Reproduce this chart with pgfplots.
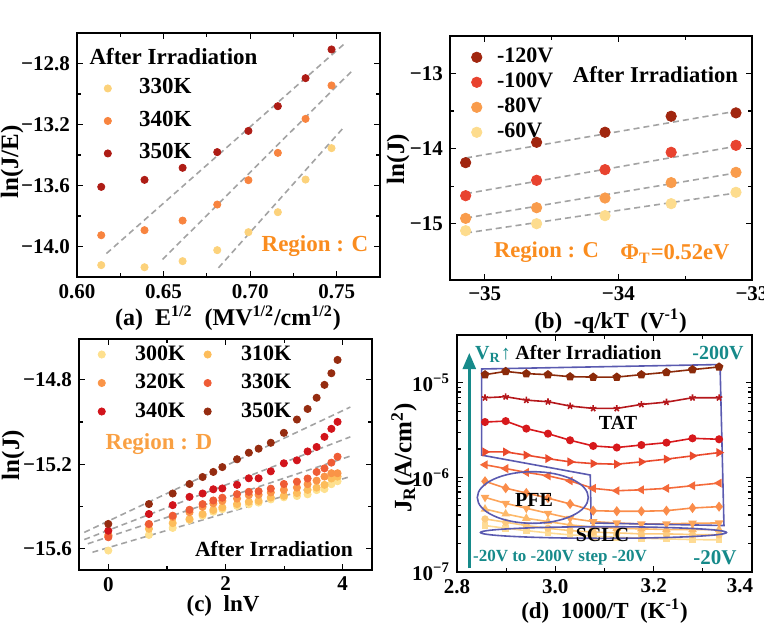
\documentclass[border=0pt]{standalone}
\usepackage{fontspec}
\setmainfont{Liberation Serif}
\usepackage{pgfplots}
\pgfplotsset{compat=1.18}
\usetikzlibrary{arrows.meta}

\definecolor{cA1}{HTML}{FCD27B}
\definecolor{cA2}{HTML}{F8843F}
\definecolor{cA3}{HTML}{AE1C15}
\definecolor{cB1}{HTML}{A1260F}
\definecolor{cB2}{HTML}{E8432F}
\definecolor{cB3}{HTML}{F99C4C}
\definecolor{cB4}{HTML}{FDDC8E}
\definecolor{cC300}{HTML}{FEE08E}
\definecolor{cC310}{HTML}{FDBD5B}
\definecolor{cC320}{HTML}{FA9447}
\definecolor{cC330}{HTML}{EF5C35}
\definecolor{cC340}{HTML}{D2141B}
\definecolor{cC350}{HTML}{952C10}
\definecolor{d200}{HTML}{8B2A0A}
\definecolor{d180}{HTML}{B5171B}
\definecolor{d160}{HTML}{D7191C}
\definecolor{d140}{HTML}{EA4A2C}
\definecolor{d120}{HTML}{F46A3A}
\definecolor{d100}{HTML}{FA8C4A}
\definecolor{d80}{HTML}{FDA55A}
\definecolor{d60}{HTML}{FDBA6A}
\definecolor{d40}{HTML}{FDCB7E}
\definecolor{d20}{HTML}{FEDB94}
\definecolor{regorange}{HTML}{FA8C1E}
\definecolor{regorangeD}{HTML}{F9A043}
\definecolor{tealc}{HTML}{168A8A}
\definecolor{bluebox}{HTML}{5A5AB0}
\definecolor{dashgray}{HTML}{A3A3A3}

\pgfplotsset{
  myaxis/.style={scale only axis, anchor=south west,
    axis line style={line width=0.9pt},
    every tick/.style={black, line width=0.6pt},
    major tick length=3pt, minor tick length=1.8pt,
    tick label style={font=\fontsize{10.5}{12}\selectfont\bfseries},
    legend cell align=left,
    legend style={draw=none, fill=none, inner sep=0pt,
      font=\fontsize{11.5}{13}\selectfont\bfseries,
      nodes={inner sep=0.8pt, text height=8pt, text depth=2.5pt}},
  },
  dline/.style={dashgray, line width=0.8pt, dash pattern=on 3pt off 2pt, forget plot},
}

\newcommand{\lab}{\fontsize{11.5}{14}\selectfont\bfseries}

\begin{document}
\begin{tikzpicture}[x=0.5pt, y=-0.5pt]
\path[use as bounding box] (0,0) rectangle (764,626);

% ---------------- (a)
\begin{axis}[myaxis, at={(38.5pt,-138.5pt)}, width=151.5pt, height=122pt,
  xmin=0.60, xmax=0.775, ymin=-14.2, ymax=-12.6,
  xtick={0.60,0.65,0.70,0.75}, xticklabels={0.60,0.65,0.70,0.75},
  ytick={-14.0,-13.6,-13.2,-12.8}, yticklabels={−14.0,−13.6,−13.2,−12.8},
  minor x tick num=1, minor y tick num=1,
  legend style={at={(0.0885,0.824)}, anchor=north west, row sep=4.15pt,
    /tikz/every odd column/.append style={column sep=13pt}}]
\addplot[dline] coordinates {(0.617,-14.046) (0.754,-12.675)};
\addplot[dline] coordinates {(0.6494,-14.085) (0.7587,-12.850)};
\addplot[dline] coordinates {(0.6817,-14.140) (0.7538,-13.222)};
\addplot[only marks, mark=*, mark size=1.8pt, color=cA1] coordinates {
(0.614,-14.122) (0.639,-14.136) (0.661,-14.096) (0.681,-14.024) (0.699,-13.906) (0.716,-13.775) (0.732,-13.561) (0.747,-13.355)};
\addlegendentry{330K}
\addplot[only marks, mark=*, mark size=1.8pt, color=cA2] coordinates {
(0.614,-13.926) (0.639,-13.893) (0.661,-13.830) (0.681,-13.725) (0.699,-13.565) (0.716,-13.386) (0.732,-13.163) (0.747,-12.944)};
\addlegendentry{340K}
\addplot[only marks, mark=*, mark size=1.8pt, color=cA3] coordinates {
(0.614,-13.609) (0.639,-13.563) (0.661,-13.484) (0.681,-13.381) (0.699,-13.242) (0.716,-13.080) (0.732,-12.896) (0.747,-12.708)};
\addlegendentry{350K}
\end{axis}

% ---------------- (b)
\begin{axis}[myaxis, at={(225pt,-140pt)}, width=151pt, height=122pt,
  xmin=-35.26, xmax=-33, ymin=-15.75, ymax=-12.5,
  xtick={-35,-34,-33}, xticklabels={−35,−34,−33},
  ytick={-15,-14,-13}, yticklabels={−15,−14,−13},
  minor x tick num=1, minor y tick num=1,
  legend style={at={(0.070,0.964)}, anchor=north west, row sep=0.4pt,
    font=\fontsize{11}{12}\selectfont\bfseries,
    /tikz/every odd column/.append style={column sep=6.8pt}}]
\addplot[dline] coordinates {(-35.14,-14.124) (-33.12,-13.502)};
\addplot[dline] coordinates {(-35.14,-14.600) (-33.12,-13.969)};
\addplot[dline] coordinates {(-35.14,-14.924) (-33.12,-14.324)};
\addplot[dline] coordinates {(-35.14,-15.124) (-33.12,-14.591)};
\addplot[only marks, mark=*, mark size=2.6pt, color=cB1] coordinates {
(-35.143,-14.187) (-34.612,-13.916) (-34.100,-13.782) (-33.605,-13.569) (-33.120,-13.524)};
\addlegendentry{-120V}
\addplot[only marks, mark=*, mark size=2.6pt, color=cB2] coordinates {
(-35.143,-14.627) (-34.612,-14.422) (-34.100,-14.280) (-33.605,-14.049) (-33.120,-13.956)};
\addlegendentry{-100V}
\addplot[only marks, mark=*, mark size=2.6pt, color=cB3] coordinates {
(-35.143,-14.929) (-34.612,-14.787) (-34.100,-14.658) (-33.605,-14.453) (-33.120,-14.316)};
\addlegendentry{-80V}
\addplot[only marks, mark=*, mark size=2.6pt, color=cB4] coordinates {
(-35.143,-15.093) (-34.612,-15.000) (-34.100,-14.893) (-33.605,-14.733) (-33.120,-14.582)};
\addlegendentry{-60V}
\end{axis}

% ---------------- (c)
\begin{axis}[myaxis, at={(39.5pt,-285pt)}, width=146.5pt, height=115.5pt,
  xmin=-0.5, xmax=4.5, ymin=-15.7, ymax=-14.607,
  xtick={0,2,4}, xticklabels={0,2,4},
  ytick={-15.6,-15.2,-14.8}, yticklabels={−15.6,−15.2,−14.8},
  minor x tick num=1, minor y tick num=1,
  legend columns=2,
  legend style={at={(0.064,0.987)}, anchor=north west, row sep=2.15pt,
    font=\fontsize{11}{12}\selectfont\bfseries,
    /tikz/every odd column/.append style={column sep=14.1pt},
    /tikz/every even column/.append style={column sep=8.6pt}}]
\addplot[dline] coordinates {(-0.41,-15.522) (4.13,-14.929)};
\addplot[dline] coordinates {(-0.41,-15.556) (4.13,-15.070)};
\addplot[dline] coordinates {(-0.35,-15.576) (4.13,-15.161)};
\addplot[dline] coordinates {(-0.27,-15.616) (4.13,-15.258)};
\addplot[only marks, mark=*, mark size=1.8pt, color=cC300] coordinates {
(0,-15.608) (0.693,-15.534) (1.099,-15.501) (1.386,-15.463) (1.609,-15.443) (1.792,-15.424) (1.946,-15.412) (2.197,-15.397) (2.398,-15.389) (2.565,-15.381) (2.773,-15.366) (2.996,-15.356) (3.219,-15.350) (3.401,-15.342) (3.555,-15.322) (3.689,-15.317) (3.807,-15.294) (3.912,-15.280)};
\addlegendentry{300K}
\addplot[only marks, mark=*, mark size=1.8pt, color=cC310] coordinates {
(0,-15.540) (0.693,-15.505) (1.099,-15.478) (1.386,-15.459) (1.609,-15.435) (1.792,-15.416) (1.946,-15.404) (2.197,-15.388) (2.398,-15.377) (2.565,-15.373) (2.773,-15.357) (2.996,-15.349) (3.219,-15.336) (3.401,-15.321) (3.555,-15.310) (3.689,-15.297) (3.807,-15.267) (3.912,-15.258)};
\addlegendentry{310K}
\addplot[only marks, mark=*, mark size=1.8pt, color=cC320] coordinates {
(0,-15.534) (0.693,-15.485) (1.099,-15.449) (1.386,-15.427) (1.609,-15.401) (1.792,-15.385) (1.946,-15.373) (2.197,-15.362) (2.398,-15.346) (2.565,-15.344) (2.773,-15.333) (2.996,-15.321) (3.219,-15.310) (3.401,-15.294) (3.555,-15.277) (3.689,-15.258) (3.807,-15.242) (3.912,-15.242)};
\addlegendentry{320K}
\addplot[only marks, mark=*, mark size=1.8pt, color=cC330] coordinates {
(0,-15.545) (0.693,-15.482) (1.099,-15.443) (1.386,-15.415) (1.609,-15.388) (1.792,-15.371) (1.946,-15.358) (2.197,-15.341) (2.398,-15.330) (2.565,-15.327) (2.773,-15.315) (2.996,-15.293) (3.219,-15.282) (3.401,-15.267) (3.555,-15.236) (3.689,-15.219) (3.807,-15.192) (3.912,-15.164)};
\addlegendentry{330K}
\addplot[only marks, mark=*, mark size=1.8pt, color=cC340] coordinates {
(0,-15.514) (0.693,-15.435) (1.099,-15.393) (1.386,-15.354) (1.609,-15.338) (1.792,-15.318) (1.946,-15.314) (2.197,-15.297) (2.398,-15.266) (2.565,-15.266) (2.773,-15.233) (2.996,-15.195) (3.219,-15.181) (3.401,-15.139) (3.555,-15.118) (3.689,-15.070) (3.807,-15.032) (3.912,-14.999)};
\addlegendentry{340K}
\addplot[only marks, mark=*, mark size=1.8pt, color=cC350] coordinates {
(0,-15.482) (0.693,-15.388) (1.099,-15.338) (1.386,-15.293) (1.609,-15.260) (1.792,-15.236) (1.946,-15.213) (2.197,-15.176) (2.398,-15.145) (2.565,-15.126) (2.773,-15.098) (2.996,-15.051) (3.219,-14.988) (3.401,-14.938) (3.555,-14.885) (3.689,-14.824) (3.807,-14.769) (3.912,-14.706)};
\addlegendentry{350K}
\end{axis}

% ---------------- (d)
\begin{axis}[myaxis, at={(228.5pt,-286pt)}, width=147.5pt, height=118.5pt,
  ymode=log, xmin=2.8, xmax=3.4, ymin=1e-7, ymax=3.2e-5,
  xtick={2.8,3.0,3.2,3.4}, xticklabels={2.8,3.0,3.2,{\hspace{-12pt}3.4}},
  ytick={1e-7,1e-6,1e-5}, yticklabels={10\textsuperscript{−7},10\textsuperscript{−6},10\textsuperscript{−5}},
  minor x tick num=1,
  every axis plot/.append style={line width=0.8pt}]
\addplot[color=d20, mark=square*, mark size=1.3pt] coordinates {
(2.857,3.10e-7) (2.899,2.90e-7) (2.941,2.74e-7) (2.985,2.59e-7) (3.030,2.47e-7) (3.077,2.39e-7) (3.125,2.33e-7) (3.175,2.28e-7) (3.226,2.24e-7) (3.279,2.20e-7) (3.333,2.19e-7)};
\addplot[color=d40, mark=*, mark size=1.4pt] coordinates {
(2.857,3.64e-7) (2.899,3.36e-7) (2.941,3.10e-7) (2.985,2.90e-7) (3.030,2.74e-7) (3.077,2.64e-7) (3.125,2.59e-7) (3.175,2.53e-7) (3.226,2.53e-7) (3.279,2.49e-7) (3.333,2.47e-7)};
\addplot[color=d60, mark=triangle*, mark size=1.7pt] coordinates {
(2.857,4.63e-7) (2.899,4.11e-7) (2.941,3.70e-7) (2.985,3.41e-7) (3.030,3.15e-7) (3.077,2.98e-7) (3.125,2.90e-7) (3.175,2.86e-7) (3.226,2.81e-7) (3.279,2.81e-7) (3.333,2.81e-7)};
\addplot[color=d80, mark=triangle*, mark size=1.7pt, mark options={rotate=180}] coordinates {
(2.857,6.15e-7) (2.899,5.32e-7) (2.941,4.72e-7) (2.985,4.18e-7) (3.030,3.70e-7) (3.077,3.41e-7) (3.125,3.30e-7) (3.175,3.22e-7) (3.226,3.22e-7) (3.279,3.28e-7) (3.333,3.30e-7)};
\addplot[color=d100, mark=diamond*, mark size=1.9pt] coordinates {
(2.857,9.1e-7) (2.899,7.7e-7) (2.941,6.84e-7) (2.985,6.05e-7) (3.030,5.24e-7) (3.077,4.45e-7) (3.125,4.39e-7) (3.175,4.39e-7) (3.226,4.45e-7) (3.279,4.75e-7) (3.333,4.91e-7)};
\addplot[color=d120, mark=triangle*, mark size=1.8pt, mark options={rotate=90}] coordinates {
(2.857,1.36e-6) (2.899,1.24e-6) (2.941,1.13e-6) (2.985,1.04e-6) (3.030,9.2e-7) (3.077,7.66e-7) (3.125,7.23e-7) (3.175,7.40e-7) (3.226,7.66e-7) (3.279,8.17e-7) (3.333,8.71e-7)};
\addplot[color=d140, mark=triangle*, mark size=1.8pt, mark options={rotate=-90}] coordinates {
(2.857,1.86e-6) (2.899,1.86e-6) (2.941,1.72e-6) (2.985,1.58e-6) (3.030,1.46e-6) (3.077,1.40e-6) (3.125,1.38e-6) (3.175,1.46e-6) (3.226,1.56e-6) (3.279,1.69e-6) (3.333,1.83e-6)};
\addplot[color=d160, mark=*, mark size=1.6pt] coordinates {
(2.857,3.85e-6) (2.899,3.94e-6) (2.941,3.28e-6) (2.985,2.90e-6) (3.030,2.47e-6) (3.077,2.15e-6) (3.125,2.07e-6) (3.175,2.20e-6) (3.226,2.33e-6) (3.279,2.59e-6) (3.333,2.53e-6)};
\addplot[color=d180, mark=star, mark size=1.7pt] coordinates {
(2.857,6.95e-6) (2.899,7.13e-6) (2.941,6.56e-6) (2.985,6.31e-6) (3.030,5.68e-6) (3.077,5.36e-6) (3.125,5.36e-6) (3.175,5.91e-6) (3.226,6.25e-6) (3.279,6.95e-6) (3.333,6.95e-6)};
\addplot[color=d200, mark=pentagon*, mark size=1.8pt] coordinates {
(2.857,1.22e-5) (2.899,1.32e-5) (2.941,1.25e-5) (2.985,1.22e-5) (3.030,1.16e-5) (3.077,1.15e-5) (3.125,1.15e-5) (3.175,1.22e-5) (3.226,1.29e-5) (3.279,1.38e-5) (3.333,1.47e-5)};
\draw[bluebox, line width=0.8pt] (axis cs:2.850,1.40e-5) -- (axis cs:3.335,1.56e-5) -- (axis cs:3.343,3.10e-7) -- (axis cs:3.073,3.30e-7) -- (axis cs:3.071,1.06e-6) -- (axis cs:2.850,1.72e-6) -- cycle;
\end{axis}

% ---------------- annotations (pixel coordinates)
\draw[bluebox, line width=0.8pt] (532.8,497.5) ellipse [x radius=55.5, y radius=25.8];
\draw[bluebox, line width=0.8pt] (603.5,532.5) ellipse [x radius=123, y radius=5.8];
\draw[tealc, line width=1.2pt, -{Triangle[length=8pt,width=6.5pt]}] (469.3,568) -- (469.3,353);

\node[font=\fontsize{11.5}{13}\selectfont\bfseries] at (173.5,57) {After Irradiation};
\node[font=\fontsize{11.5}{13}\selectfont\bfseries, text=regorange] at (315,246) {Region : C};
\node[font=\fontsize{11.3}{13}\selectfont\bfseries] at (655.5,75) {After Irradiation};
\node[font=\fontsize{11.3}{13}\selectfont\bfseries, text=regorange] at (546.5,252) {Region : C};
\node[font=\fontsize{11.3}{13}\selectfont\bfseries, text=regorange] at (675,254) {Φ\textsubscript{T}=0.52eV};
\node[font=\fontsize{11.5}{13}\selectfont\bfseries, text=regorangeD] at (159,444) {Region : D};
\node[font=\fontsize{10.8}{13}\selectfont\bfseries] at (274,549) {After Irradiation};

\node[font=\fontsize{10}{12}\selectfont\bfseries, text=tealc] at (493,354) {V\textsubscript{R}↑};
\node[font=\fontsize{10}{12}\selectfont\bfseries] at (588.5,353) {After Irradiation};
\node[font=\fontsize{10}{12}\selectfont\bfseries, text=tealc] at (718,353) {-200V};
\node[font=\fontsize{10}{12}\selectfont\bfseries] at (618,423) {TAT};
\node[font=\fontsize{10}{12}\selectfont\bfseries] at (534,500) {PFE};
\node[font=\fontsize{10}{12}\selectfont\bfseries] at (602.5,535) {SCLC};
\node[font=\fontsize{8.5}{10}\selectfont\bfseries, text=tealc] at (560,558) {-20V to -200V step -20V};
\node[font=\fontsize{10.5}{12}\selectfont\bfseries, text=tealc] at (715,558) {-20V};

% axis labels
\node[font=\fontsize{12}{14}\selectfont\bfseries] at (228,318) {(a)\ \ E\textsuperscript{1/2}\ \ (MV\textsuperscript{1/2}/cm\textsuperscript{1/2})};
\node[font=\lab] at (610.5,321) {(b)\ \ -q/kT\ \ (V\textsuperscript{-1})};
\node[font=\lab] at (223,606) {(c)\ \ lnV};
\node[font=\lab] at (604.5,611) {(d)\ \ 1000/T\ \ (K\textsuperscript{-1})};
\node[font=\fontsize{12.5}{14}\selectfont\bfseries, rotate=90] at (12,162) {ln(J/E)};
\node[font=\fontsize{12.5}{14}\selectfont\bfseries, rotate=90] at (398,159) {ln(J)};
\node[font=\fontsize{12.5}{14}\selectfont\bfseries, rotate=90] at (13,455) {ln(J)};
\node[font=\fontsize{12.5}{14}\selectfont\bfseries, rotate=90] at (404,458) {J\textsubscript{R}(A/cm\textsuperscript{2})};
\end{tikzpicture}
\end{document}
